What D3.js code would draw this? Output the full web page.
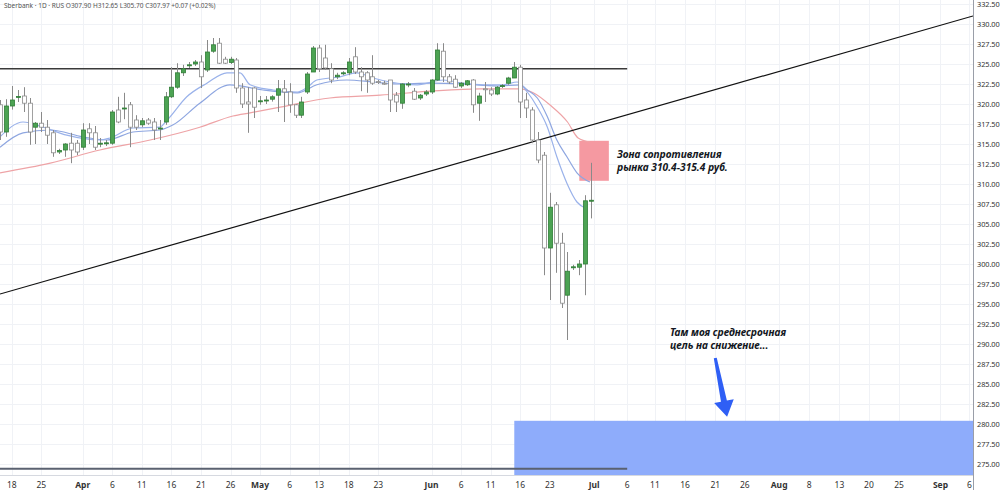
<!DOCTYPE html>
<html><head><meta charset="utf-8">
<script src="https://cdn.jsdelivr.net/npm/d3@7/dist/d3.min.js"></script>
<style>
html,body{margin:0;padding:0;background:#fff;overflow:hidden}
text{font-family:"Noto Sans","DejaVu Sans",sans-serif}
</style>
</head><body>
<svg id="chart" width="1000" height="490"></svg>
<script>
// ---- data ----
const opens  = [319.9,316.5,319.75,320.85,321.0,320.1,317.1,317.6,317.1,316.4,314.0,314.25,315.1,315.1,314.6,316.9,316.4,315.0,315.1,315.1,
  319.25,319.4,319.9,318.0,317.4,318.0,317.75,316.9,317.75,320.9,322.1,323.9,324.8,325.0,325.25,324.25,326.6,327.6,325.6,325.2,
  325.5,322.0,320.25,322.0,320.4,320.4,320.6,321.1,321.9,321.5,319.9,318.6,321.5,324.0,327.0,325.75,324.4,323.4,323.8,323.9,
  325.9,324.0,323.9,323.4,322.8,322.6,323.0,321.1,320.1,322.5,321.6,320.75,321.25,321.5,323.0,326.6,323.4,323.1,322.25,322.4,
  323.0,320.1,321.9,321.75,321.25,322.25,322.6,323.25,324.6,320.5,319.25,315.5,313.6,302.0,307.4,302.6,296.1,299.6,299.6,300.0,307.9];
const highs  = [320.5,320.6,322.25,321.75,322.1,320.75,317.75,319.0,318.0,316.75,314.4,315.1,316.4,315.5,317.6,317.6,317.25,315.75,315.5,319.25,
  320.9,321.4,320.25,318.6,318.25,318.25,318.25,318.0,321.5,324.6,325.1,324.9,325.25,325.5,326.1,328.0,328.25,328.25,325.9,325.9,
  325.75,322.6,322.1,322.1,321.0,321.0,321.1,323.0,323.0,322.6,320.0,320.9,324.0,327.25,327.4,327.4,325.1,323.9,324.1,325.75,
  327.1,324.6,324.1,326.1,323.0,322.9,323.0,321.5,322.6,322.75,322.0,321.25,321.75,323.1,327.6,327.6,323.75,323.6,322.75,323.0,
  323.1,321.4,322.75,322.1,322.25,322.5,323.4,325.25,324.9,321.4,319.6,316.5,314.0,308.9,307.75,303.9,301.5,299.9,300.5,308.6,312.65];
const lows   = [315.5,315.9,319.3,320.25,319.0,314.9,315.0,316.5,315.0,313.4,313.75,313.4,312.6,313.6,314.25,315.0,314.25,314.6,314.75,314.9,
  317.6,318.1,314.6,316.75,317.1,317.4,315.5,315.5,317.4,320.75,321.9,323.5,324.5,324.75,322.0,324.0,326.4,325.0,325.0,325.0,
  321.4,319.5,316.4,318.25,319.9,320.0,320.3,319.0,317.75,318.9,318.25,318.25,321.25,324.0,324.0,324.25,322.6,323.1,323.6,323.6,
  323.75,321.6,321.4,322.4,322.5,322.4,319.0,319.0,319.4,322.1,320.5,320.5,321.0,321.25,322.9,322.75,322.5,322.0,322.0,322.25,
  318.9,317.9,320.25,321.0,321.1,322.0,322.4,323.25,318.25,318.25,315.1,312.6,298.6,295.5,298.9,294.5,290.5,299.25,298.6,296.1,305.7];
const closes = [316.5,319.75,320.5,320.95,320.1,316.5,317.6,317.1,316.1,313.9,314.2,315.0,314.25,314.0,316.75,316.4,314.6,315.1,315.15,319.0,
  317.75,319.5,317.1,317.1,317.9,317.6,316.75,317.0,320.9,322.1,323.9,324.4,324.9,325.25,323.4,326.5,327.4,325.1,325.1,325.6,
  322.0,320.0,320.0,319.6,320.4,320.5,320.9,321.9,321.5,319.9,318.6,320.25,323.75,327.0,324.4,324.5,323.0,323.6,323.9,325.25,
  324.0,323.4,323.0,322.6,322.7,322.55,320.5,320.25,322.5,322.5,320.6,321.1,321.5,323.0,326.75,323.4,322.75,322.1,322.6,322.9,
  319.9,321.0,321.85,321.25,322.1,322.3,323.25,324.6,320.25,319.5,315.5,313.0,302.0,307.1,302.6,295.1,299.1,299.65,300.0,307.9,307.97];

// moving averages: [bar index, value]
const maFast = [[0,315.9],[3.9,317.75],[7.3,317.1],[11.3,316.1],[16.9,315.5],[18.6,315.75],[22.5,317.0],[27,317.1],[28.3,318.0],
  [31.6,320.9],[35,322.6],[38.4,323.9],[40.6,323.9],[42.3,322.4],[46.2,321.75],[50.3,321.5],[52,322.1],[53.6,323.0],[57.5,323.4],
  [60.4,323.9],[63.1,323.25],[66,322.75],[70.6,322.4],[75,323.0],[78.3,322.6],[81.7,322.4],[85.1,322.4],[87.5,322.75],[89.2,321.5],
  [90.9,319.6],[92.6,317.1],[94.2,313.4],[95.9,310.1],[97.6,307.75],[99,307.0]];
const maMid = [[0,314.6],[3.9,316.4],[8.5,316.75],[14,315.9],[18.1,315.5],[22.5,316.5],[27,316.75],[29.3,317.4],[33.8,320.1],
  [38.9,322.4],[44.5,321.75],[50.3,321.4],[53.6,322.4],[58.7,323.0],[63.1,322.75],[67.2,322.5],[72.8,322.6],[78.3,322.5],
  [84.1,322.25],[88,322.4],[89.2,321.75],[90.9,320.75],[92.6,318.4],[94.2,315.5],[95.9,313.4],[97.6,311.4],[99.8,310.25]];
const maSlow = [[0,311.4],[8.5,312.6],[16.9,314.25],[25.4,315.5],[33.8,317.1],[39.4,318.5],[42.3,318.9],[47.4,319.6],[55.8,320.75],
  [64.3,321.1],[72.8,321.6],[81.2,321.9],[88,321.9],[90.2,321.4],[93,319.9],[96,317.75],[97.8,315.75],[99.8,315.25]];

const priceTicks = [275,277.5,280,282.5,285,287.5,290,292.5,295,297.5,300,302.5,305,307.5,310,312.5,315,317.5,320,322.5,325,327.5,330,332.5];
const dateTickIdx = [2,7,14,19,24,29,34,39,44,49,54,59,64,73,78,83,88,93,100.5,106.1,110.8,115.9,121,126,131.8,136.9,142,147,152.1,159.1,164];
const dateTickLabels = ["18","25","Apr","6","11","16","21","26","May","6","13","18","23","Jun","6","11","16","23","Jul","6","11","16","21","26","Aug","8","13","20","25","Sep","6"];
const monthLabels = ["Apr","May","Jun","Jul","Aug","Sep"];

const trendLine = [[0,296.25],[164.6,331.0]];
const resistance = {from:0, to:106.1, value:324.4};
const support = {from:0, to:106.1, value:274.4};
const zone = {from:98, to:103, lo:310.4, hi:315.4};
const target = {from:87, to:170, lo:270, hi:280.4};
const arrowPts = [[121,288.25],[123,280.9]];
const headerText = "Sberbank · 1D · RUS  O307.90 H312.65 L305.70 C307.97 +0.07 (+0.02%)";
const note1 = ["Зона сопротивления","рынка 310.4-315.4 руб."];
const note2 = ["Там моя среднесрочная","цель на снижение..."];

// ---- drawing ----
const W=1000,H=490, plotR=973, plotB=475;
const svg=d3.select("#chart");
const x=d3.scaleLinear().domain([0,164.6]).range([0,plotR]);
const y=d3.scaleLinear().domain([275,332.5]).range([464,4]);

svg.append("defs").append("clipPath").attr("id","clip").append("rect").attr("x",0).attr("y",0).attr("width",plotR).attr("height",plotB);

// grid
const grid=svg.append("g");
grid.selectAll("line.h").data(priceTicks).join("line").attr("x1",0).attr("x2",plotR)
  .attr("y1",d=>Math.round(y(d))+0.5).attr("y2",d=>Math.round(y(d))+0.5).attr("stroke","#f0f2f6");
grid.selectAll("line.v").data(dateTickIdx).join("line").attr("y1",0).attr("y2",plotB)
  .attr("x1",d=>Math.round(x(d))+0.5).attr("x2",d=>Math.round(x(d))+0.5).attr("stroke","#f0f2f6");

const plot=svg.append("g").attr("clip-path","url(#clip)");

// target zone
plot.append("rect").attr("x",x(target.from)).attr("width",x(target.to)-x(target.from))
  .attr("y",y(target.hi)).attr("height",y(target.lo)-y(target.hi)).attr("fill","#8eacfb");
// support line
plot.append("line").attr("x1",x(support.from)).attr("x2",x(support.to)).attr("y1",y(support.value)).attr("y2",y(support.value))
  .attr("stroke","#5a6170").attr("stroke-width",2);
// resistance line
plot.append("line").attr("x1",x(resistance.from)).attr("x2",x(resistance.to)).attr("y1",y(resistance.value)).attr("y2",y(resistance.value))
  .attr("stroke","#3a3a3a").attr("stroke-width",1.5);
// resistance zone
plot.append("rect").attr("x",x(zone.from)).attr("width",x(zone.to)-x(zone.from))
  .attr("y",y(zone.hi)).attr("height",y(zone.lo)-y(zone.hi)).attr("fill","#f4939c").attr("fill-opacity",0.95);

// MAs
const lineGen=d3.line().x(d=>x(d[0])).y(d=>y(d[1])).curve(d3.curveMonotoneX);
plot.append("path").attr("d",lineGen(maSlow)).attr("fill","none").attr("stroke","#eea3a6").attr("stroke-width",1.2);
plot.append("path").attr("d",lineGen(maMid)).attr("fill","none").attr("stroke","#8ea6e0").attr("stroke-width",1.2);
plot.append("path").attr("d",lineGen(maFast)).attr("fill","none").attr("stroke","#9ab2ea").attr("stroke-width",1.2);

// trend line
plot.append("line").attr("x1",x(trendLine[0][0])).attr("y1",y(trendLine[0][1]))
  .attr("x2",x(trendLine[1][0])).attr("y2",y(trendLine[1][1])).attr("stroke","#111").attr("stroke-width",1.2);

// candles
const candles=opens.map((o,i)=>({i,o,h:highs[i],l:lows[i],c:closes[i]}));
const bw=4;
const cg=plot.append("g");
cg.selectAll("line").data(candles).join("line")
  .attr("x1",d=>Math.round(x(d.i))+0.5).attr("x2",d=>Math.round(x(d.i))+0.5)
  .attr("y1",d=>y(d.h)).attr("y2",d=>y(d.l)).attr("stroke","#8a8a8a").attr("stroke-width",1);
cg.selectAll("rect").data(candles).join("rect")
  .attr("x",d=>Math.round(x(d.i))-bw/2+0.5).attr("width",bw)
  .attr("y",d=>y(Math.max(d.o,d.c))).attr("height",d=>Math.max(1,Math.abs(y(d.o)-y(d.c))))
  .attr("fill",d=>d.c>=d.o?"#4ca353":"#ffffff").attr("stroke",d=>d.c>=d.o?"#2f7d36":"#8a8a8a").attr("stroke-width",0.8);

// arrow
(function(){
  const [p0,p1]=arrowPts.map(p=>[x(p[0]),y(p[1])]);
  const dx=p1[0]-p0[0], dy=p1[1]-p0[1], len=Math.hypot(dx,dy);
  const ux=dx/len, uy=dy/len, nx=-uy, ny=ux;
  const hl=16, hw=10, sw=3;
  const b=[p1[0]-ux*hl,p1[1]-uy*hl];
  const pts=[[p0[0]+nx*sw*0.5,p0[1]+ny*sw*0.5],[b[0]+nx*sw,b[1]+ny*sw],[b[0]+nx*hw,b[1]+ny*hw],p1,
    [b[0]-nx*hw,b[1]-ny*hw],[b[0]-nx*sw,b[1]-ny*sw],[p0[0]-nx*sw*0.5,p0[1]-ny*sw*0.5]];
  svg.append("path").attr("d","M"+pts.map(p=>p.join(",")).join("L")+"Z").attr("fill","#2f5ff5");
})();

// notes
const noteStyle=t=>t.attr("font-size",10.2).attr("font-style","italic").attr("font-weight",700).attr("fill","#131722")
  .attr("font-family","'Open Sans','Noto Sans',sans-serif");
note1.forEach((s,k)=>noteStyle(svg.append("text").attr("x",617).attr("y",158+k*13).text(s)));
note2.forEach((s,k)=>noteStyle(svg.append("text").attr("x",670).attr("y",336+k*13).text(s)));

// axes
svg.append("line").attr("x1",plotR+0.5).attr("x2",plotR+0.5).attr("y1",0).attr("y2",H).attr("stroke","#9a9ea8");
svg.append("line").attr("x1",0).attr("x2",plotR).attr("y1",plotB+0.5).attr("y2",plotB+0.5).attr("stroke","#d6d9e0");
svg.append("g").selectAll("text").data(priceTicks).join("text")
  .attr("x",977).attr("y",d=>y(d)+3).attr("font-size",7.4).attr("letter-spacing",-0.1)
  .attr("font-family","'Liberation Sans',sans-serif").attr("fill","#333").text(d=>d.toFixed(2));
svg.append("g").selectAll("text").data(dateTickIdx).join("text")
  .attr("x",d=>x(d)).attr("y",488).attr("text-anchor","middle").attr("font-size",8.5)
  .attr("font-weight",(d,i)=>monthLabels.includes(dateTickLabels[i])?700:400).attr("fill","#333")
  .text((d,i)=>dateTickLabels[i]);

// header
svg.append("text").attr("x",4).attr("y",8).attr("font-size",6.5).attr("fill","#555").text(headerText);
</script>
</body></html>
